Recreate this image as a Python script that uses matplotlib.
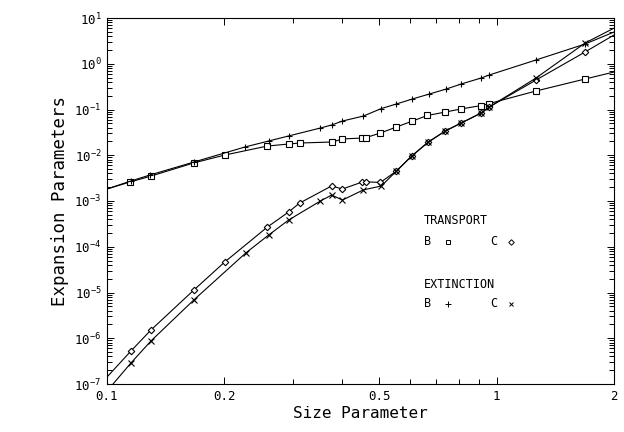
import numpy as np
import matplotlib
matplotlib.use("Agg")
import matplotlib.pyplot as plt
from matplotlib.ticker import FixedLocator, FixedFormatter, NullFormatter, LogLocator

plt.rcParams["font.family"] = ["DejaVu Sans Mono", "DejaVu Sans"]
plt.rcParams["mathtext.fontset"] = "custom"
plt.rcParams["mathtext.rm"] = "DejaVu Sans Mono"
plt.rcParams["mathtext.default"] = "rm"

# --- data (first/last entries are where curves meet the frame) ---
bt_x = [0.1, 0.1145, 0.1296, 0.167, 0.2005, 0.258, 0.2925, 0.312, 0.379, 0.402,
        0.452, 0.461, 0.503, 0.553, 0.608, 0.664, 0.738, 0.811, 0.913, 0.957,
        1.262, 1.686, 2.0]
bt_y = [1.83e-3, 2.6e-3, 3.5e-3, 6.8e-3, 1.01e-2, 1.59e-2, 1.76e-2, 1.85e-2, 1.95e-2, 2.27e-2,
        2.38e-2, 2.42e-2, 3.06e-2, 4.14e-2, 5.6e-2, 7.4e-2, 8.8e-2, 0.103, 0.122, 0.135,
        0.254, 0.464, 0.66]

be_x = [0.1, 0.1152, 0.1289, 0.167, 0.2256, 0.260, 0.2925, 0.353, 0.377, 0.402,
        0.455, 0.506, 0.553, 0.608, 0.672, 0.743, 0.811, 0.913, 0.957, 1.262, 1.686, 2.0]
be_y = [1.83e-3, 2.74e-3, 3.7e-3, 7.1e-3, 1.51e-2, 2.05e-2, 2.64e-2, 3.94e-2, 4.58e-2, 5.6e-2,
        7.2e-2, 0.105, 0.132, 0.170, 0.218, 0.281, 0.361, 0.489, 0.568, 1.21, 2.70, 4.94]

ct_x = [0.1, 0.1152, 0.1296, 0.167, 0.2005, 0.258, 0.2925, 0.312, 0.377, 0.402,
        0.452, 0.461, 0.503, 0.553, 0.605, 0.668, 0.738, 0.811, 0.913, 0.957,
        1.262, 1.686, 2.0]
ct_y = [1.42e-7, 5.26e-7, 1.51e-6, 1.13e-5, 4.64e-5, 2.70e-4, 5.75e-4, 9.0e-4, 2.13e-3, 1.83e-3,
        2.6e-3, 2.62e-3, 2.55e-3, 4.5e-3, 9.6e-3, 1.95e-2, 3.39e-2, 5.07e-2, 8.4e-2, 0.1135,
        0.441, 1.81, 4.25]

ce_x = [0.1, 0.1152, 0.1296, 0.167, 0.2270, 0.260, 0.2925, 0.353, 0.377, 0.402,
        0.455, 0.506, 0.553, 0.605, 0.668, 0.738, 0.811, 0.913, 0.957, 1.262, 1.686, 2.0]
ce_y = [7.0e-8, 2.88e-7, 8.7e-7, 6.86e-6, 7.3e-5, 1.81e-4, 3.84e-4, 1.0e-3, 1.35e-3, 1.05e-3,
        1.75e-3, 2.13e-3, 4.53e-3, 9.6e-3, 1.95e-2, 3.39e-2, 5.07e-2, 8.4e-2, 0.1135, 0.489,
        2.84, 6.0]

x_major = [0.1, 0.2, 0.5, 1, 2]
x_major_labels = ["0.1", "0.2", "0.5", "1", "2"]
x_minor = [0.3, 0.4, 0.6, 0.7, 0.8, 0.9]
y_major = [10.0 ** k for k in range(-7, 2)]

fig = plt.figure(figsize=(6.24, 4.32), dpi=100)
ax = fig.add_axes([107 / 624, 1 - 384 / 432, 507 / 624, 366 / 432])

lw = 0.8
inner = slice(1, -1)
ax.plot(bt_x, bt_y, color="k", lw=lw, marker="s", ms=5, mfc="white", mec="k",
        mew=0.8, markevery=inner)
ax.plot(be_x, be_y, color="k", lw=lw, marker="+", ms=5, mew=0.8, markevery=inner)
ax.plot(ct_x, ct_y, color="k", lw=lw, marker="D", ms=3.3, mfc="white", mec="k",
        mew=0.8, markevery=inner)
ax.plot(ce_x, ce_y, color="k", lw=lw, marker="x", ms=4.2, mew=0.8, markevery=inner)

ax.set_xscale("log")
ax.set_yscale("log")
ax.set_xlim(0.1, 2)
ax.set_ylim(1e-7, 1e1)

ax.xaxis.set_major_locator(FixedLocator(x_major))
ax.xaxis.set_major_formatter(FixedFormatter(x_major_labels))
ax.xaxis.set_minor_locator(FixedLocator(x_minor))
ax.xaxis.set_minor_formatter(NullFormatter())
ax.yaxis.set_major_locator(FixedLocator(y_major))
ax.yaxis.set_minor_locator(LogLocator(base=10, subs=np.arange(2, 10), numticks=20))
ax.yaxis.set_minor_formatter(NullFormatter())

ax.tick_params(which="both", direction="in", top=True, right=True, width=0.7,
               labelsize=9)
ax.tick_params(which="major", length=5)
ax.tick_params(which="minor", length=3.5)
ax.tick_params(axis="x", pad=4)
ax.tick_params(axis="y", pad=4)
for s in ax.spines.values():
    s.set_linewidth(0.8)

ax.set_xlabel("Size Parameter", fontsize=11.5)
ax.set_ylabel("Expansion Parameters", fontsize=12.5)
ax.xaxis.label.set_va("center")
ax.yaxis.label.set_va("center")
ax.xaxis.set_label_coords(0.5, (384 - 414) / 366)
ax.yaxis.set_label_coords((60 - 107) / 507, 0.5)

# --- legend block ---
fs = 8.5
ax.text(0.625, 0.448, "TRANSPORT", transform=ax.transAxes, fontsize=fs, va="center")
ax.text(0.625, 0.388, "B", transform=ax.transAxes, fontsize=fs, va="center")
ax.text(0.755, 0.388, "C", transform=ax.transAxes, fontsize=fs, va="center")
ax.text(0.625, 0.273, "EXTINCTION", transform=ax.transAxes, fontsize=fs, va="center")
ax.text(0.625, 0.219, "B", transform=ax.transAxes, fontsize=fs, va="center")
ax.text(0.755, 0.219, "C", transform=ax.transAxes, fontsize=fs, va="center")
key = dict(transform=ax.transAxes, color="k", ls="none", mfc="white", mec="k", mew=0.7,
           clip_on=False)
ax.plot([0.673], [0.388], marker="s", ms=3.5, **key)
ax.plot([0.797], [0.388], marker="D", ms=2.8, **key)
ax.plot([0.673], [0.219], marker="+", ms=4, **key)
ax.plot([0.797], [0.219], marker="x", ms=3.5, **key)

fig.savefig("out.png", dpi=100, facecolor="white")
